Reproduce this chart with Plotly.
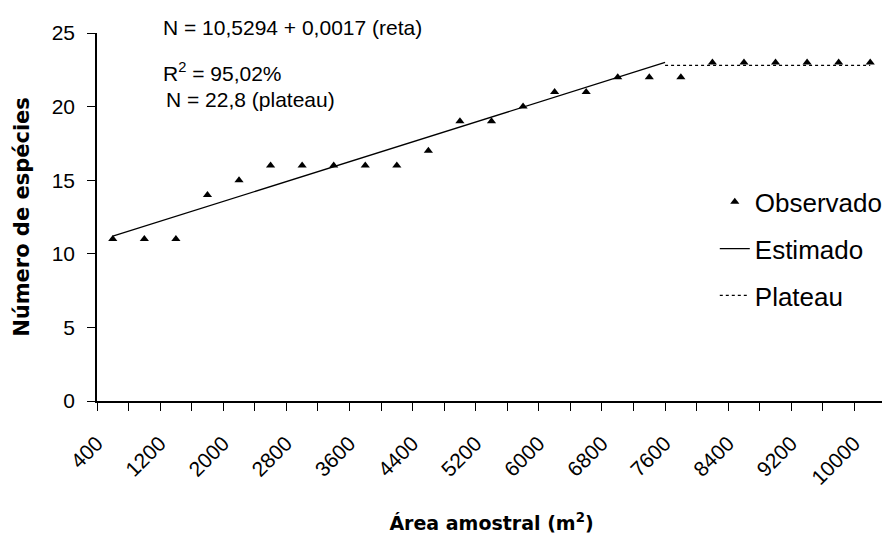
import plotly.graph_objects as go

# Data
area = [400, 800, 1200, 1600, 2000, 2400, 2800, 3200, 3600, 4000, 4400, 4800, 5200,
        5600, 6000, 6400, 6800, 7200, 7600, 8000, 8400, 8800, 9200, 9600, 10000]
observado = [11, 11, 11, 14, 15, 16, 16, 16, 16, 16, 17, 19, 19,
             20, 21, 21, 22, 22, 22, 23, 23, 23, 23, 23, 23]
estimado_x = [400, 7400]
estimado_y = [11.2, 23.0]
plateau_x = [7400, 10000]
plateau_y = [22.8, 22.8]
tick_vals = [400, 1200, 2000, 2800, 3600, 4400, 5200, 6000, 6800, 7600, 8400, 9200, 10000]
tick_text = ["400", "1200", "2000", "2800", "3600", "4400", "5200", "6000", "6800",
             "7600", "8400", "9200", "10000"]

FONT = "Liberation Sans, Arial, sans-serif"
BOLD = "DejaVu Sans, Verdana, sans-serif"

fig = go.Figure()
fig.add_trace(go.Scatter(
    x=area, y=observado, mode="markers", name="Observado",
    marker=dict(symbol="triangle-up", size=8, color="black"),
    legendgroup="a"))
fig.add_trace(go.Scatter(
    x=estimado_x, y=estimado_y, mode="lines", name="Estimado",
    line=dict(color="black", width=1.3), legendgroup="b"))
fig.add_trace(go.Scatter(
    x=plateau_x, y=plateau_y, mode="lines", name="Plateau",
    line=dict(color="black", width=1.3, dash="dot"), legendgroup="c"))

fig.update_layout(
    width=882, height=526,
    margin=dict(l=89, r=4, t=25, b=133, autoexpand=False),
    paper_bgcolor="white", plot_bgcolor="white",
    font=dict(family=FONT, color="black", size=21),
    showlegend=True,
    legend=dict(x=0.783, y=0.605, xanchor="left", yanchor="top",
                font=dict(size=26, family=FONT, color="black"),
                tracegroupgap=10, bgcolor="rgba(0,0,0,0)"),
    xaxis=dict(
        range=[200, 10200], tickmode="array", tickvals=tick_vals, ticktext=tick_text,
        tickangle=-45, ticks="outside", ticklen=8, tickcolor="rgba(0,0,0,0)",
        ticklabelshift=-16, ticklabelstandoff=12,
        showline=True, linecolor="black", linewidth=1.5, showgrid=False, zeroline=False,
        tickfont=dict(size=21, family=FONT),
        minor=dict(tick0=200, dtick=400, ticks="outside", ticklen=8,
                   tickcolor="black", tickwidth=1.3, showgrid=False),
        title=dict(text="Área amostral (m<sup>2</sup>)",
                   font=dict(family=BOLD, size=19, color="black", weight="bold"),
                   standoff=30),
    ),
    yaxis=dict(
        range=[0, 25], tickmode="linear", tick0=0, dtick=5,
        ticks="outside", ticklen=8, tickcolor="black", tickwidth=1.3,
        showline=True, linecolor="black", linewidth=1.5, showgrid=False, zeroline=False,
        tickfont=dict(size=21, family=FONT), ticklabelstandoff=8,
        title=dict(text="Número de espécies",
                   font=dict(family=BOLD, size=21, color="black", weight="bold"),
                   standoff=16),
    ),
)

ann_font = dict(family=FONT, size=21, color="black")
fig.add_annotation(text="N = 10,5294 + 0,0017 (reta)", xref="paper", yref="paper",
                   x=(161 - 97) / 789, y=(401 - 27) / 368, xanchor="left", yanchor="middle",
                   showarrow=False, font=ann_font)
fig.add_annotation(text="R<sup>2</sup> = 95,02%", xref="paper", yref="paper",
                   x=(161 - 97) / 789, y=(401 - 72) / 368, xanchor="left", yanchor="middle",
                   showarrow=False, font=ann_font)
fig.add_annotation(text="N = 22,8 (plateau)", xref="paper", yref="paper",
                   x=(164 - 97) / 789, y=(401 - 100) / 368, xanchor="left", yanchor="middle",
                   showarrow=False, font=ann_font)

fig.write_html("out.html")
